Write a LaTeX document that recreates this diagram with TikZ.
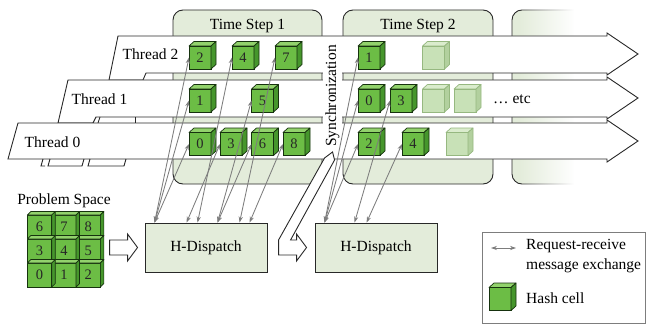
\documentclass[tikz,border=0pt]{standalone}
\usepackage{fontspec}
\setmainfont{Liberation Serif}
\usetikzlibrary{arrows.meta, fadings}
\definecolor{panelcolor}{RGB}{227,236,218}
\definecolor{edgecolor}{RGB}{40,40,40}
\definecolor{msgcolor}{RGB}{125,125,125}
\definecolor{cellfront}{RGB}{108,189,69}
\definecolor{celltop}{RGB}{146,210,108}
\definecolor{cellside}{RGB}{70,150,44}
\definecolor{celledge}{RGB}{22,50,14}
\definecolor{ghostfront}{RGB}{200,225,183}
\definecolor{ghosttop}{RGB}{218,236,205}
\definecolor{ghostside}{RGB}{178,208,158}
\definecolor{ghostedge}{RGB}{150,184,128}

% depth of the cube faces
\newcommand{\celldx}{5}
\newcommand{\celldy}{-4.5}
% hash cell: front face is the node, top and side faces hang off its corners
\newcommand{\hashcell}[6][hcell]{%
  \node[#1, fill=#2front, draw=#2edge] (#3) at (#4,#5) {#6};
  \filldraw[fill=#2top, draw=#2edge, line width=0.7pt, line join=round]
    (#3.north west) -- ([shift={(\celldx,\celldy)}]#3.north west)
    -- ([shift={(\celldx,\celldy)}]#3.north east) -- (#3.north east) -- cycle;
  \filldraw[fill=#2side, draw=#2edge, line width=0.7pt, line join=round]
    (#3.north east) -- ([shift={(\celldx,\celldy)}]#3.north east)
    -- ([shift={(\celldx,\celldy)}]#3.south east) -- (#3.south east) -- cycle;
}

\begin{document}
\begin{tikzpicture}[
    x=1pt, y=-1pt,
    panel/.style={draw=edgecolor, fill=panelcolor, rounded corners=10pt, line width=0.9pt, minimum height=174pt, inner sep=0pt},
    band/.style={draw=edgecolor, fill=white, line width=0.9pt},
    strip/.style={draw=edgecolor, line width=0.9pt},
    txt/.style={font=\fontsize{15.5}{17}\selectfont, inner sep=1pt},
    hcell/.style={rectangle, minimum width=22pt, minimum height=23pt, inner sep=0pt, outer sep=0pt, line width=0.7pt, font=\fontsize{14.5}{16}\selectfont, text=black!85},
    gcell/.style={hcell, minimum width=24.3pt, minimum height=24pt},
    dispatch/.style={draw=edgecolor, fill=panelcolor, line width=0.9pt, minimum width=122pt, minimum height=49pt, font=\fontsize{15.5}{17}\selectfont},
    blockarrow/.style={draw=edgecolor, fill=white, line width=0.9pt},
    msg/.style={{Stealth[length=6pt,width=4.2pt]}-{Stealth[length=6pt,width=4.2pt]}, draw=msgcolor, line width=0.85pt}
]
    \useasboundingbox (0,0) rectangle (647,326);

    % Time steps
    \node[panel, minimum width=149pt] (ts1) at (247.5,97) {};
    \node[panel, minimum width=150pt] (ts2) at (418,97) {};
    \node[panel, minimum width=200pt] (ts3) at (612,97) {};
    \fill[white, path fading=west] (518,0) rectangle (574,190);
    \fill[white] (574,0) rectangle (650,190);
    \node[txt] (ts1title) at (247.5,26) {Time Step 1};
    \node[txt] (ts2title) at (418,26) {Time Step 2};

    % Thread 2
    \draw[band] (118,36) -- (607,36) -- (607,33) -- (638,54) -- (607,75) -- (607,73)
        -- (146,73) -- (143,80) -- (109,80) -- cycle;
    \draw[strip] (143,80) -- (607,80);

    % Thread 1
    \draw[band] (68,80) -- (607,80) -- (607,77) -- (638,98) -- (607,119) -- (607,117)
        -- (96,117) -- (93,123) -- (58,123) -- cycle;
    \draw[strip] (93,123) -- (607,123);
    \draw[strip] (100,117) -- (98,123);
    \draw[strip] (135,117) -- (135,123);

    % Thread 0
    \draw[band] (18,123) -- (607,123) -- (607,120) -- (638,141) -- (607,162) -- (607,159)
        -- (8,159) -- cycle;
    \draw[strip] (43,159) -- (41,166) -- (45,166);
    \draw[strip] (50,159) -- (48,166) -- (82,166) -- (84,159);
    \draw[strip] (90,159) -- (88,166) -- (124,166) -- (126,159);

    \node[txt] (thr2) at (150.5,54) {Thread 2};
    \node[txt] (thr1) at (99.5,99) {Thread 1};
    \node[txt] (thr0) at (52.5,142) {Thread 0};

    % Hash cells, time step 1
    \hashcell{cell}{c2}{200}{57.5}{2}
    \hashcell{cell}{c4}{243}{57.5}{4}
    \hashcell{cell}{c7}{286}{57.5}{7}
    \hashcell{cell}{c1}{200}{100.5}{1}
    \hashcell{cell}{c5}{262.5}{100.5}{5}
    \hashcell{cell}{c0}{200}{144}{0}
    \hashcell{cell}{c3}{231}{144}{3}
    \hashcell{cell}{c6}{262.5}{144}{6}
    \hashcell{cell}{c8}{294}{144}{8}

    % Hash cells, time step 2
    \hashcell{cell}{d1}{369}{57.5}{1}
    \hashcell{ghost}{g1}{433.5}{57.5}{}
    \hashcell{cell}{d0}{369}{100.5}{0}
    \hashcell{cell}{d3}{401}{100.5}{3}
    \hashcell{ghost}{g2}{433.5}{100.5}{}
    \hashcell{ghost}{g3}{465}{100.5}{}
    \hashcell{cell}{d2}{369}{144}{2}
    \hashcell{cell}{d4}{413}{144}{4}
    \hashcell{ghost}{g4}{457}{144}{}
    \node[txt, anchor=west] (etc) at (492,99) {… etc};

    \node[txt, rotate=90, fill=white, minimum height=19pt, inner xsep=3pt] (sync) at (332.5,96) {Synchronization};

    % Legend
    \node[draw=msgcolor, line width=0.8pt, minimum width=163pt, minimum height=91pt, inner sep=0pt] (legend) at (564,277.5) {};
    \coordinate (legtail) at (491,248);
    \draw[msg] (legtail) -- ++(25,0);
    \node[txt, font=\fontsize{15.5}{20.5}\selectfont, anchor=west, align=left] (legmsg) at (525,256) {Request-receive\\message exchange};
    \hashcell{cell}{legcell}{500}{299}{}
    \node[txt, anchor=west] (legcelltxt) at (525,298) {Hash cell};

    % Problem space
    \node[txt] (pstitle) at (64,201) {Problem Space};
    \renewcommand{\celldx}{3.5}
    \renewcommand{\celldy}{-3.5}
    \hashcell[gcell]{cell}{p8}{88.2}{227}{8}
    \hashcell[gcell]{cell}{p7}{63.9}{227}{7}
    \hashcell[gcell]{cell}{p6}{39.6}{227}{6}
    \hashcell[gcell]{cell}{p5}{88.2}{251}{5}
    \hashcell[gcell]{cell}{p4}{63.9}{251}{4}
    \hashcell[gcell]{cell}{p3}{39.6}{251}{3}
    \hashcell[gcell]{cell}{p2}{88.2}{275}{2}
    \hashcell[gcell]{cell}{p1}{63.9}{275}{1}
    \hashcell[gcell]{cell}{p0}{39.6}{275}{0}

    % H-Dispatch
    \node[dispatch] (hd1) at (206,247.5) {H-Dispatch};
    \node[dispatch] (hd2) at (376,247.5) {H-Dispatch};

    % block arrows into the dispatchers
    \draw[blockarrow, shift={(hd1.west)}] (-35,-7.5) -- (-17,-7.5) -- (-17,-13.5) -- (-7,0)
        -- (-17,13.5) -- (-17,7.5) -- (-35,7.5) -- cycle;
    \draw[blockarrow, shift={(hd2.west)}] (-36,7.5) -- (-36,-7.5) -- (10,-89.5) -- (18,-95.5)
        -- (20,-87.5) -- (-24,-7.5) -- (-18,-7.5) -- (-18,-13.5) -- (-8,0) -- (-18,13.5)
        -- (-18,7.5) -- cycle;

    % request-receive exchanges
    \foreach \c/\dx in {c2/10, c1/10, c0/10, c3/42, c4/53, c5/73, c6/73, c7/95, c8/105}
        \draw[msg] ([xshift=\dx pt]hd1.north west) -- (\c.west);
    \foreach \c/\dx in {d1/10, d0/10, d2/10, d3/40, d4/52}
        \draw[msg] ([xshift=\dx pt]hd2.north west) -- (\c.west);
\end{tikzpicture}
\end{document}
